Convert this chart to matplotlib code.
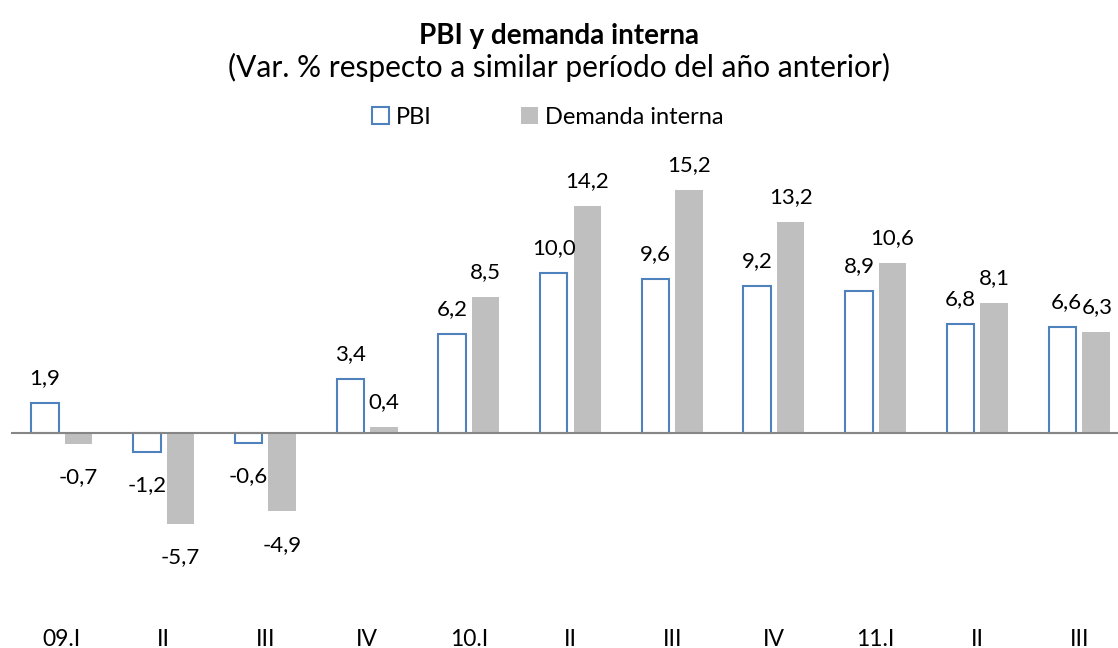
import numpy as np
import matplotlib as mp
import matplotlib.pyplot as plt

mp.rcParams['font.family'] = ['Lato', 'DejaVu Sans']

categorias = ['09.I', 'II', 'III', 'IV', '10.I', 'II', 'III', 'IV', '11.I', 'II', 'III']
pbi = [1.9, -1.2, -0.6, 3.4, 6.2, 10.0, 9.6, 9.2, 8.9, 6.8, 6.6]
demanda = [-0.7, -5.7, -4.9, 0.4, 8.5, 14.2, 15.2, 13.2, 10.6, 8.1, 6.3]

azul = '#4F81BD'
gris = '#BFBFBF'

fig = plt.figure(figsize=(11.18, 6.48), dpi=100)
ax = fig.add_axes([11/1118, 1 - 615/648, (1130 - 11)/1118, (615 - 140)/648])

x = np.arange(len(categorias))
w = 0.27
off = 0.165

ax.bar(x - off, pbi, w, facecolor='white', edgecolor=azul, linewidth=1.5,
       label='PBI', zorder=2)
ax.bar(x + off, demanda, w, color=gris, label='Demanda interna', zorder=2)
ax.axhline(0, color='#868686', linewidth=1.5, zorder=3)

ax.set_xlim(-0.5, len(categorias) - 0.5)
ax.set_ylim(-(615 - 433) / 16, (433 - 140) / 16)


def etiqueta(xp, v, dx=0):
    txt = f'{v:.1f}'.replace('.', ',')
    if v >= 0:
        ax.annotate(txt, (xp, v), xytext=(dx, 18), textcoords='offset points',
                    ha='center', va='center', fontsize=16)
    else:
        ax.annotate(txt, (xp, v), xytext=(dx, -24), textcoords='offset points',
                    ha='center', va='center', fontsize=16)


for i in range(len(categorias)):
    dp, dd = 0, 0
    if i == len(categorias) - 1:
        dp, dd = 3, 1
    etiqueta(x[i] - off, pbi[i], dp)
    etiqueta(x[i] + off, demanda[i], dd)

ax.set_xticks(x)
ax.set_xticklabels(categorias, fontsize=16.5)
ax.tick_params(axis='x', length=0, pad=10)
ax.set_yticks([])
for s in ax.spines.values():
    s.set_visible(False)

fig.text(0.5, 1 - 44/648, 'PBI y demanda interna', ha='center', va='baseline',
         fontsize=20, fontweight='bold')
fig.text(0.5, 1 - 77/648, '(Var. % respecto a similar período del año anterior)',
         ha='center', va='baseline', fontsize=21.5)

fig.legend(loc='center', bbox_to_anchor=(548/1118, 1 - 117/648), ncol=2,
           frameon=False, fontsize=17, handlelength=0.7, handleheight=0.7,
           handletextpad=0.3, columnspacing=3.8)

fig.savefig('out.png', dpi=100)
